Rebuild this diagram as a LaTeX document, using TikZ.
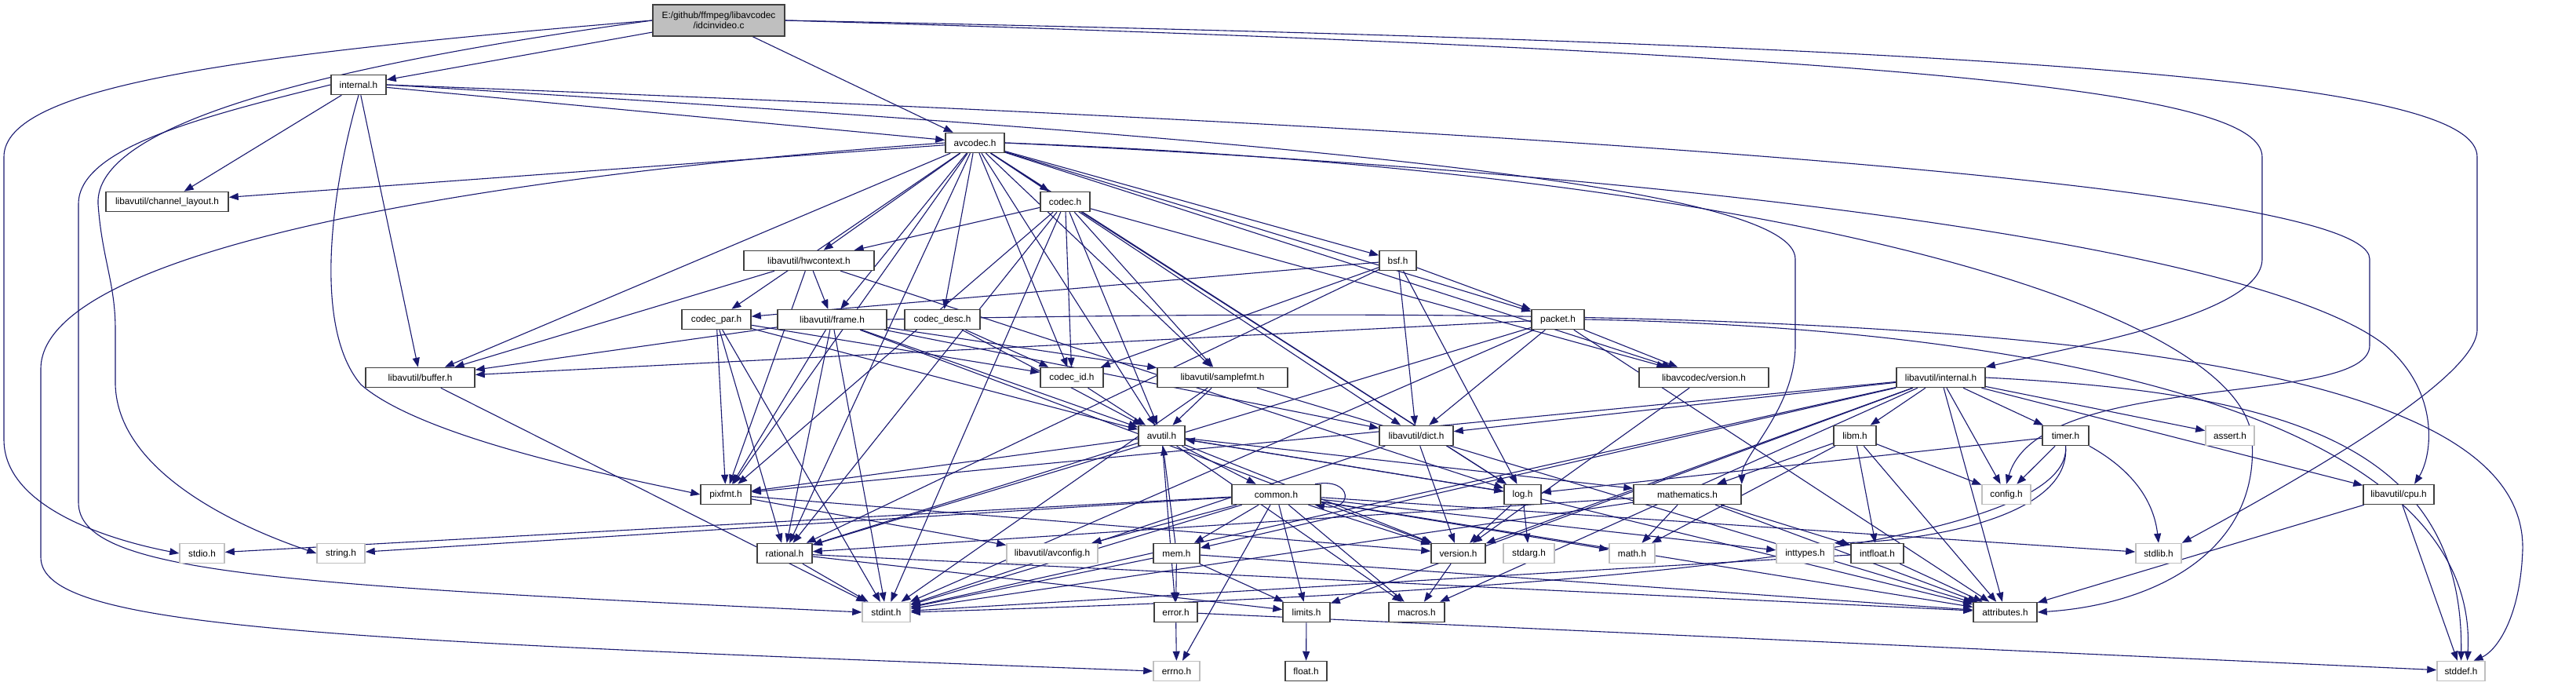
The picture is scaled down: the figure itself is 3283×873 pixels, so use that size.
\documentclass[tikz,border=0pt]{standalone}
\usepackage{fontspec}
\setmainfont{Liberation Sans}
\usetikzlibrary{arrows.meta}
\definecolor{edgec}{HTML}{191970}
\definecolor{nodeb}{HTML}{404040}
\definecolor{grayb}{HTML}{BFBFBF}
\definecolor{rootf}{HTML}{BFBFBF}
\pgfdeclarelayer{bg}
\pgfsetlayers{bg,main}
\tikzset{
  hb/.style={draw=nodeb, line width=1.5pt, fill=white, minimum height=25pt, inner sep=0pt, font=\fontsize{11.8}{13}\selectfont},
  gb/.style={hb, draw=grayb},
  e/.style={draw=edgec, line width=1.1pt, -{Triangle[length=12pt,width=9pt]}},
}
\begin{document}
\begin{tikzpicture}[x=1pt,y=-1pt]
\useasboundingbox (0,0) rectangle (3283,873);
% nodes
\node[hb, fill=rootf, minimum width=168pt, minimum height=40pt, align=center] (root) at (916,26) {E:/github/ffmpeg/libavcodec\\/idcinvideo.c};
\node[hb, minimum width=70pt] (inth) at (457,108) {internal.h};
\node[hb, minimum width=75pt] (avc) at (1242.5,182) {avcodec.h};
\node[hb, minimum width=156pt] (chl) at (213,257) {libavutil/channel\_layout.h};
\node[hb, minimum width=63pt] (codec) at (1357.5,257) {codec.h};
\node[hb, minimum width=166pt] (hwc) at (1031,332) {libavutil/hwcontext.h};
\node[hb, minimum width=47pt] (bsf) at (1781.5,332) {bsf.h};
\node[hb, minimum width=88pt] (cpar) at (913,407) {codec\_par.h};
\node[hb, minimum width=139pt] (frame) at (1060.5,407) {libavutil/frame.h};
\node[hb, minimum width=96pt] (cdesc) at (1201,407) {codec\_desc.h};
\node[hb, minimum width=67pt] (packet) at (1985.5,407) {packet.h};
\node[hb, minimum width=139pt] (buffer) at (535.5,481) {libavutil/buffer.h};
\node[hb, minimum width=80pt] (cid) at (1366,481) {codec\_id.h};
\node[hb, minimum width=166pt] (sfmt) at (1558,481) {libavutil/samplefmt.h};
\node[hb, minimum width=165pt] (lcver) at (2171.5,481) {libavcodec/version.h};
\node[hb, minimum width=113pt] (uint) at (2473.5,481) {libavutil/internal.h};
\node[hb, minimum width=59pt] (avutil) at (1480.5,555) {avutil.h};
\node[hb, minimum width=94pt] (dict) at (1805,555) {libavutil/dict.h};
\node[hb, minimum width=54pt] (libm) at (2364,555) {libm.h};
\node[hb, minimum width=59pt] (timer) at (2632.5,555) {timer.h};
\node[gb, minimum width=62pt] (assert) at (2842,555) {assert.h};
\node[hb, minimum width=64pt] (pixfmt) at (925,630) {pixfmt.h};
\node[hb, minimum width=113pt] (common) at (1626.5,630) {common.h};
\node[hb, minimum width=47pt] (log) at (1940.5,630) {log.h};
\node[hb, minimum width=137pt] (math) at (2150.5,630) {mathematics.h};
\node[gb, minimum width=62pt] (config) at (2557,630) {config.h};
\node[hb, minimum width=90pt] (cpu) at (3057,630) {libavutil/cpu.h};
\node[gb, minimum width=57pt] (stdio) at (257.5,705) {stdio.h};
\node[gb, minimum width=61pt] (string) at (434.5,705) {string.h};
\node[hb, minimum width=70pt] (rational) at (1000,705) {rational.h};
\node[gb, minimum width=116pt] (avconfig) at (1341,705) {libavutil/avconfig.h};
\node[hb, minimum width=59pt] (mem) at (1499.5,705) {mem.h};
\node[hb, minimum width=69pt] (version) at (1858.5,705) {version.h};
\node[gb, minimum width=65pt] (stdarg) at (1948.5,705) {stdarg.h};
\node[gb, minimum width=58pt] (mathh) at (2080,705) {math.h};
\node[gb, minimum width=73pt] (inttypes) at (2300.5,705) {inttypes.h};
\node[hb, minimum width=67pt] (intfloat) at (2392.5,705) {intfloat.h};
\node[gb, minimum width=58pt] (stdlib) at (2751,705) {stdlib.h};
\node[gb, minimum width=61pt] (stdint) at (1129.5,780) {stdint.h};
\node[hb, minimum width=55pt] (error) at (1498.5,780) {error.h};
\node[hb, minimum width=60pt] (limits) at (1665,780) {limits.h};
\node[hb, minimum width=71pt] (macros) at (1805.5,780) {macros.h};
\node[hb, minimum width=81pt] (attr) at (2555.5,780) {attributes.h};
\node[gb, minimum width=59pt] (errno) at (1499.5,855) {errno.h};
\node[hb, minimum width=53pt] (float) at (1664.5,855) {float.h};
\node[gb, minimum width=61pt] (stddef) at (3136.5,855) {stddef.h};

\begin{pgfonlayer}{bg}
\fill[white] (0,0) rectangle (3283,873);
% root
\draw[e] (root.west) .. controls (300,70) and (5,110) .. (5,200) -- (5,560) .. controls (5,650) and (150,690) .. (stdio.west);
\draw[e] (root.west) .. controls (400,85) and (120,160) .. (125,260) .. controls (130,330) and (147,360) .. (147,420) -- (147,490) .. controls (150,600) and (300,670) .. (string.west);
\draw[e] (root) -- (inth);
\draw[e] (root) -- (avc);
\draw[e] (root.east) .. controls (2500,70) and (2883,120) .. (2883,200) -- (2883,330) .. controls (2883,400) and (2650,440) .. (uint.north east);
\draw[e] (root.east) .. controls (2700,60) and (3157,110) .. (3157,200) -- (3157,420) .. controls (3157,480) and (2950,600) .. (stdlib.north east);
% internal.h
\draw[e] (inth.west) .. controls (250,150) and (100,190) .. (100,260) -- (100,640) .. controls (100,730) and (350,745) .. (stdint.west);
\foreach \t in {buffer,chl,avc} \draw[e] (inth) -- (\t);
\draw[e] (inth.south) .. controls (420,250) and (400,420) .. (460,490) .. controls (540,560) and (800,610) .. (pixfmt.west);
\draw[e] (inth.east) .. controls (1700,180) and (2288,240) .. (2288,330) -- (2288,440) .. controls (2288,520) and (2220,580) .. (math.north east);
\draw[e] (inth.east) .. controls (1600,150) and (3020,220) .. (3020,330) -- (3020,440) .. controls (3020,520) and (2600,470) .. (config.north);
% avcodec.h
\draw[e] (avc.west) .. controls (600,225) and (52,320) .. (52,470) -- (52,710) .. controls (52,800) and (400,815) .. (errno.west);
\draw[e] (avc.east) .. controls (2300,220) and (2860,400) .. (2870,560) .. controls (2880,700) and (2750,770) .. (attr.east);
\draw[e] (avc.east) .. controls (2300,230) and (2900,330) .. (3040,440) .. controls (3110,500) and (3100,580) .. ([xshift=20pt]cpu.north);
\foreach \t in {sfmt,avutil,buffer,chl,dict,frame,hwc,log,pixfmt,rational,bsf,codec,cdesc,cpar,cid,packet,lcver} \draw[e] (avc) -- (\t);
% codec.h
\foreach \t in {stdint,avutil,hwc,log,pixfmt,rational,sfmt,cid,lcver} \draw[e] (codec) -- (\t);
% hwcontext
\foreach \t in {buffer,frame,log,pixfmt} \draw[e] (hwc) -- (\t);
% bsf
\foreach \t in {dict,log,rational,cid,cpar,packet} \draw[e] (bsf) -- (\t);
% codec_par
\foreach \t in {stdint,avutil,rational,pixfmt,cid} \draw[e] (cpar) -- (\t);
% frame
\foreach \t in {stdint,avutil,buffer,dict,rational,sfmt,pixfmt,version} \draw[e] (frame) -- (\t);
\draw[e] (frame.east) .. controls (2500,380) and (3220,440) .. (3215,700) .. controls (3212,790) and (3180,830) .. ([xshift=16pt]stddef.north);
% codec_desc
\foreach \t in {avutil,cid} \draw[e] (cdesc) -- (\t);
% packet
\foreach \t in {stdint,attr,buffer,dict,rational,lcver} \draw[e] (packet) -- (\t);
\draw[e] (packet.east) .. controls (2700,420) and (3160,560) .. ([xshift=8pt]stddef.north);
% singles
\draw[e] (buffer) -- (stdint);
\draw[e] (cid) -- (avutil);
\foreach \t in {stdint,avutil,attr} \draw[e] (sfmt) -- (\t);
\draw[e] (lcver) -- (version);
% libavutil/internal.h
\foreach \t in {limits,stdint,assert,config,attr,timer,cpu,dict,macros,mem,pixfmt,version,libm} \draw[e] (uint) -- (\t);
\draw[e] (uint.east) .. controls (2900,500) and (3140,560) .. (stddef.north);
% avutil.h
\foreach \t in {common,error,rational,version,macros,math,log,pixfmt} \draw[e] (avutil) -- (\t);
% dict
\foreach \t in {stdint,version} \draw[e] (dict) -- (\t);
% libm
\foreach \t in {mathh,config,attr,intfloat,math} \draw[e] (libm) -- (\t);
% timer
\draw[e] (timer) -- (config);
\draw[e] (timer) -- (log);
\draw[e] (timer.south) .. controls (2640,660) and (2450,690) .. (inttypes.north east);
\draw[e] (timer.south) .. controls (2645,720) and (1800,760) .. (stdint.east);
\draw[e] (timer.south east) .. controls (2720,600) and (2745,640) .. (stdlib.north);
% pixfmt
\foreach \t in {avconfig,version} \draw[e] (pixfmt) -- (\t);
% common
\foreach \t in {errno,inttypes,limits,mathh,stdint,stdio,stdlib,string,attr,macros,version,avconfig,mem} \draw[e] (common) -- (\t);
\draw[e] (common.15) .. controls (1725,608) and (1725,652) .. (common.-15);
% log
\foreach \t in {stdarg,version,attr,avutil} \draw[e] (log) -- (\t);
% mathematics
\foreach \t in {stdint,mathh,attr,rational,intfloat} \draw[e] (math) -- (\t);
% cpu
\foreach \t in {stddef,attr} \draw[e] (cpu) -- (\t);
% rational
\foreach \t in {stdint,limits,attr} \draw[e] (rational) -- (\t);
% mem
\foreach \t in {limits,stdint,attr,error,avutil} \draw[e] (mem) -- (\t);
\draw[e] (version) -- (macros);
\foreach \t in {stdint,attr} \draw[e] (intfloat) -- (\t);
\foreach \t in {errno,stddef} \draw[e] (error) -- (\t);
\draw[e] (limits) -- (float);
\end{pgfonlayer}
\end{tikzpicture}
\end{document}
